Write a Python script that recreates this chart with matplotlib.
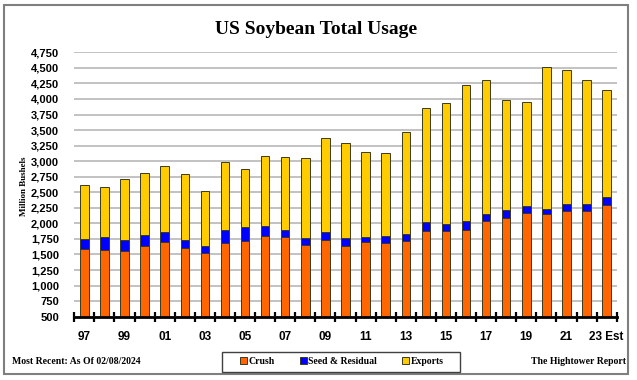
import matplotlib
matplotlib.use("Agg")
import matplotlib.pyplot as plt
from matplotlib.patches import Rectangle, Patch
import numpy as np

years = ["97", "98", "99", "00", "01", "02", "03", "04", "05", "06", "07", "08", "09",
         "10", "11", "12", "13", "14", "15", "16", "17", "18", "19", "20", "21", "22", "23 Est"]
crush = [1593, 1572, 1561, 1632, 1696, 1604, 1524, 1685, 1722, 1802, 1786, 1658, 1733,
         1641, 1696, 1685, 1722, 1873, 1883, 1899, 2043, 2082, 2162, 2146, 2204, 2204, 2296]
seed_residual = [151, 209, 177, 177, 166, 134, 113, 204, 220, 156, 108, 112, 129,
                 124, 85, 112, 112, 145, 107, 144, 113, 138, 113, 90, 108, 108, 124]
exports = [873, 809, 976, 996, 1061, 1056, 889, 1093, 933, 1130, 1169, 1277, 1506,
           1523, 1372, 1330, 1640, 1842, 1951, 2177, 2145, 1759, 1677, 2283, 2159, 1998, 1729]
yticks = list(range(500, 4751, 250))

W, H = 637, 380
fig = plt.figure(figsize=(W / 100, H / 100), dpi=100)
fig.patch.set_facecolor("white")

# outer frame
fig.patches.append(Rectangle((4 / W, 1 - 374 / H), 624 / W, 369.5 / H, transform=fig.transFigure,
                             facecolor="white", edgecolor="#7f7f7f", lw=1.5, zorder=-10))

ax = fig.add_axes([74.3 / W, 1 - 316.7 / H, (616.7 - 74.3) / W, (316.7 - 52.3) / H])
ax.set_zorder(2)
ax.set_facecolor("none")

x = np.arange(len(years))
c = np.array(crush)
s = np.array(seed_residual)
e = np.array(exports)
bw = 0.42
ec = "#3a3a20"
ax.bar(x, c, bw, color="#FF6600", edgecolor=ec, lw=0.7, zorder=3, label="Crush")
ax.bar(x, s, bw, bottom=c, color="#0000FF", edgecolor=ec, lw=0.7, zorder=3, label="Seed & Residual")
ax.bar(x, e, bw, bottom=c + s, color="#FFCC00", edgecolor=ec, lw=0.7, zorder=3, label="Exports")

ax.set_xlim(-0.5, len(years) - 0.5)
ax.set_ylim(500, 4750)
ax.set_yticks(yticks)
ax.set_yticklabels([f"{v:,}" for v in yticks])
ax.grid(axis="y", color="#bdbdbd", lw=1.3, zorder=0)
ax.set_axisbelow(True)
for sp in ["left", "right", "top"]:
    ax.spines[sp].set_visible(False)
ax.spines["bottom"].set_color("black")
ax.spines["bottom"].set_linewidth(2)
ax.spines["bottom"].set_zorder(5)

sans = ["Liberation Sans", "DejaVu Sans"]
serif = ["Liberation Serif", "DejaVu Serif"]

ax.tick_params(axis="y", length=0, pad=11)
for t in ax.get_yticklabels():
    t.set_fontfamily(sans)
    t.set_fontweight("bold")
    t.set_fontsize(8)

# x ticks: minor tick marks between bars, labels every other year
ax.set_xticks(np.arange(-0.5, len(years), 1.0), minor=True)
ax.set_xticks(x[::2])
ax.set_xticklabels(years[::2])
ax.tick_params(axis="x", which="major", length=0, pad=10)
ax.tick_params(axis="x", which="minor", direction="inout", length=7, width=1.6, color="black")
for t in ax.get_xticklabels():
    t.set_fontfamily(sans)
    t.set_fontweight("bold")
    t.set_fontsize(8.5)

fig.text(316.5 / W, 1 - 30 / H, "US Soybean Total Usage", ha="center", va="center",
         fontfamily=serif, fontweight="bold", fontsize=14)
fig.text(24 / W, 1 - 186 / H, "Million Bushels", ha="center", va="center", rotation=90,
         fontfamily=serif, fontweight="bold", fontsize=6.5)
fig.text(12 / W, 1 - 362 / H, "Most Recent: As Of 02/08/2024", ha="left", va="center",
         fontfamily=serif, fontweight="bold", fontsize=7)
fig.text(626 / W, 1 - 362 / H, "The Hightower Report", ha="right", va="center",
         fontfamily=serif, fontweight="bold", fontsize=7)

# legend box
fig.patches.append(Rectangle((221.7 / W, 1 - 371.7 / H), (460 - 221.7) / W, 20 / H,
                             transform=fig.transFigure, facecolor="white",
                             edgecolor="#404040", lw=1.0, zorder=1))
handles = [Patch(facecolor="#FF6600", edgecolor=ec, lw=0.7),
           Patch(facecolor="#0000FF", edgecolor=ec, lw=0.7),
           Patch(facecolor="#FFCC00", edgecolor=ec, lw=0.7)]
leg = fig.legend(handles, ["Crush", "Seed & Residual", "Exports"], loc="center",
                 bbox_to_anchor=(342 / W, 1 - 361.5 / H), ncol=3, frameon=False,
                 handlelength=0.7, handleheight=0.7, handletextpad=0.15, columnspacing=2.6,
                 prop={"family": serif, "weight": "bold", "size": 7})
leg.set_zorder(3)

fig.savefig("out.png", dpi=100)
